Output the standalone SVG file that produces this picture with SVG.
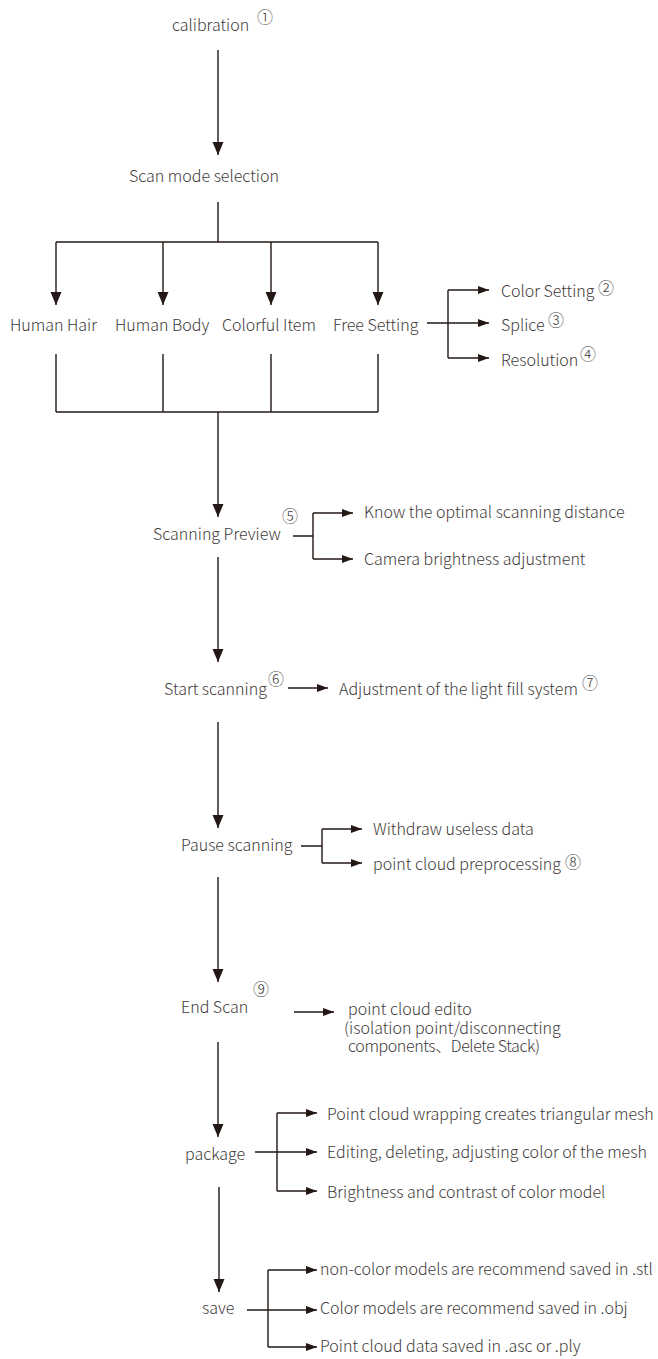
<svg xmlns="http://www.w3.org/2000/svg" width="658" height="1359" viewBox="0 0 658 1359">
<style>
text{font-family:"Noto Sans CJK SC","Noto Sans",sans-serif;font-size:16px;font-weight:300;fill:#3e3a39}
.n{font-size:16px}
.c{fill:none;stroke:#231815;stroke-width:1.4}
.a{marker-end:url(#big)}
.s{marker-end:url(#sm)}
</style>
<defs>
<marker id="big" markerUnits="userSpaceOnUse" markerWidth="15" markerHeight="13" refX="13" refY="5.5" orient="auto">
<path d="M0,0 L13,5.5 L0,11 Z" fill="#231815"/>
</marker>
<marker id="sm" markerUnits="userSpaceOnUse" markerWidth="12" markerHeight="10" refX="11" refY="4" orient="auto">
<path d="M0,0 L11,4 L0,8 Z" fill="#231815"/>
</marker>
</defs>
<g id="connectors">
<line class="c a" x1="218" y1="50" x2="218" y2="155"/>
<path class="c" d="M218,202 V242 M56,242 H378"/>
<line class="c a" x1="56" y1="242" x2="56" y2="305"/>
<line class="c a" x1="163" y1="242" x2="163" y2="305"/>
<line class="c a" x1="271" y1="242" x2="271" y2="305"/>
<line class="c a" x1="378" y1="242" x2="378" y2="305"/>
<path class="c" d="M56,354 V412 M163,354 V412 M271,354 V412 M378,354 V412 M56,412 H378"/>
<path class="c" d="M427,323 H448 M448,290 V358"/>
<line class="c s" x1="448" y1="290" x2="489" y2="290"/>
<line class="c s" x1="448" y1="323" x2="489" y2="323"/>
<line class="c s" x1="448" y1="358" x2="489" y2="358"/>
<line class="c a" x1="218" y1="412" x2="218" y2="517"/>
<path class="c" d="M293,536 H313 M313,513 V559"/>
<line class="c s" x1="313" y1="513" x2="353" y2="513"/>
<line class="c s" x1="313" y1="559" x2="353" y2="559"/>
<line class="c a" x1="218" y1="557" x2="218" y2="662"/>
<line class="c s" x1="288" y1="688" x2="328" y2="688"/>
<line class="c a" x1="218" y1="722" x2="218" y2="828"/>
<path class="c" d="M301,846 H322 M322,829 V863"/>
<line class="c s" x1="322" y1="829" x2="362" y2="829"/>
<line class="c s" x1="322" y1="863" x2="362" y2="863"/>
<line class="c a" x1="218" y1="877" x2="218" y2="982"/>
<line class="c s" x1="294" y1="1012" x2="334" y2="1012"/>
<line class="c a" x1="218" y1="1042" x2="218" y2="1137"/>
<path class="c" d="M255,1152 H277 M277,1113 V1191"/>
<line class="c s" x1="277" y1="1113" x2="317" y2="1113"/>
<line class="c s" x1="277" y1="1152" x2="317" y2="1152"/>
<line class="c s" x1="277" y1="1191" x2="317" y2="1191"/>
<line class="c a" x1="219" y1="1187" x2="219" y2="1292"/>
<path class="c" d="M247,1310 H268 M268,1270 V1347"/>
<line class="c s" x1="268" y1="1270" x2="317" y2="1270"/>
<line class="c s" x1="268" y1="1310" x2="317" y2="1310"/>
<line class="c s" x1="268" y1="1347" x2="317" y2="1347"/>
</g>
<g id="calibration"><text x="172" y="31">calibration</text><text class="n" x="257" y="23">①</text></g>
<g id="scan-mode"><text x="129" y="182">Scan mode selection</text></g>
<g id="human-hair"><text x="10" y="331">Human Hair</text></g>
<g id="human-body"><text x="115" y="331">Human Body</text></g>
<g id="colorful-item"><text x="222" y="331">Colorful Item</text></g>
<g id="free-setting"><text x="333" y="331">Free Setting</text></g>
<g id="color-setting"><text x="501" y="297">Color Setting</text><text class="n" x="598" y="294">②</text></g>
<g id="splice"><text x="501" y="331">Splice</text><text class="n" x="548" y="326">③</text></g>
<g id="resolution"><text x="501" y="366">Resolution</text><text class="n" x="580" y="360">④</text></g>
<g id="scanning-preview"><text x="153" y="540">Scanning Preview</text><text class="n" x="282" y="522">⑤</text></g>
<g id="know-distance"><text x="364" y="518">Know the optimal scanning distance</text></g>
<g id="camera-brightness"><text x="364" y="565">Camera brightness adjustment</text></g>
<g id="start-scanning"><text x="164" y="695">Start scanning</text><text class="n" x="268" y="685">⑥</text></g>
<g id="light-fill"><text x="339" y="695">Adjustment of the light fill system</text><text class="n" x="582" y="689">⑦</text></g>
<g id="pause-scanning"><text x="181" y="851">Pause scanning</text></g>
<g id="withdraw"><text x="373" y="835">Withdraw useless data</text></g>
<g id="preprocessing"><text x="373" y="870">point cloud preprocessing</text><text class="n" x="565" y="868">⑧</text></g>
<g id="end-scan"><text x="181" y="1013">End Scan</text><text class="n" x="253" y="995">⑨</text></g>
<g id="point-cloud-edit"><text x="348" y="1015">point cloud edito</text><text x="344" y="1034"> (isolation point/disconnecting</text><text x="348" y="1052" textLength="192" lengthAdjust="spacing">components、Delete Stack)</text></g>
<g id="package"><text x="185" y="1160">package</text></g>
<g id="wrapping"><text x="327" y="1120">Point cloud wrapping creates triangular mesh</text></g>
<g id="editing"><text x="327" y="1158">Editing, deleting, adjusting color of the mesh</text></g>
<g id="brightness"><text x="327" y="1198">Brightness and contrast of color model</text></g>
<g id="save"><text x="202" y="1314">save</text></g>
<g id="stl"><text x="320" y="1275">non-color models are recommend saved in .stl</text></g>
<g id="obj"><text x="320" y="1314">Color models are recommend saved in .obj</text></g>
<g id="ply"><text x="320" y="1352">Point cloud data saved in .asc or .ply</text></g>
</svg>
